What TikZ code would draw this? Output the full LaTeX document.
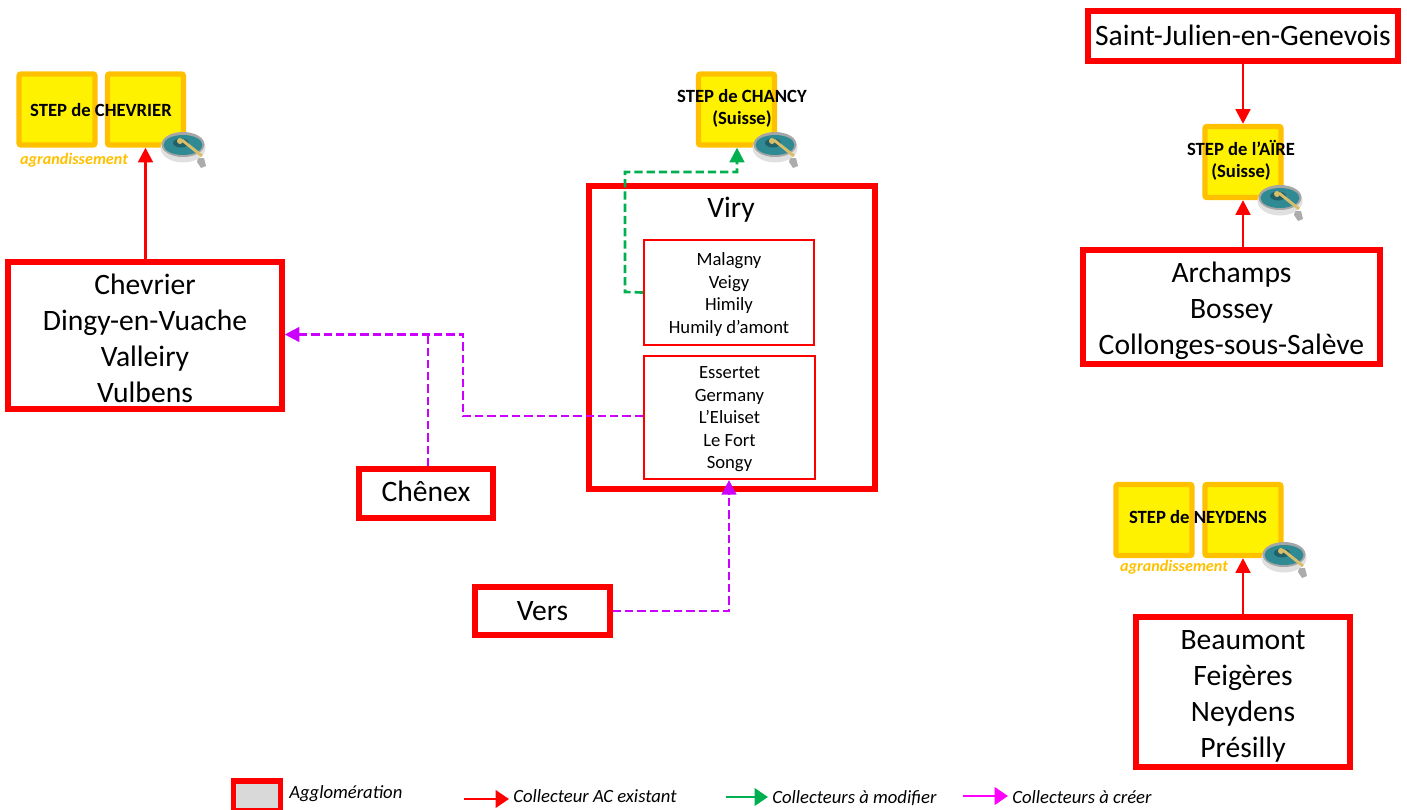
\documentclass[tikz,border=0pt]{standalone}
\usepackage{fontspec}
\setmainfont{Carlito}
\usetikzlibrary{arrows.meta}
\definecolor{stepor}{HTML}{FFC000}
\definecolor{vert}{HTML}{00B050}
\definecolor{viol}{HTML}{CC00FF}
\definecolor{mag}{HTML}{FF00FF}
\definecolor{teal1}{HTML}{2F8A94}
\definecolor{tan1}{HTML}{D9BE6A}
\tikzset{
 x=0.75pt,y=-0.75pt,
 wh/.style 2 args={minimum width=#1*0.75pt,minimum height=#2*0.75pt,inner sep=0pt},
 agglo/.style={draw=red,line width=4.2pt,fill=white},
 bigtext/.style={align=center,inner sep=0pt,font=\fontsize{22.2}{27}\selectfont},
 subbox/.style={draw=red,line width=1.6pt,fill=white},
 smalltext/.style={align=center,inner sep=0pt,font=\fontsize{14}{16.9}\selectfont},
 station/.style={draw=stepor,line width=4pt,fill=yellow,rounded corners=1.5pt},
 steptext/.style={align=center,inner sep=0pt,font=\bfseries\fontsize{14}{16.5}\selectfont},
 growtext/.style={text=stepor,inner sep=0pt,font=\bfseries\itshape\fontsize{12.1}{13}\selectfont},
 leg/.style={anchor=west,inner sep=0pt,font=\itshape\fontsize{14}{16}\selectfont},
 exist/.style={draw=red,line width=2pt,-{Triangle[length=11pt,width=11pt]}},
 modif/.style={draw=vert,line width=2pt,dash pattern=on 6.2pt off 3pt,-{Triangle[length=11pt,width=11pt]}},
 creer/.style={draw=viol,line width=2pt,dash pattern=on 6.2pt off 3pt,-{Triangle[length=11pt,width=11pt]}},
 creerline/.style={line width=2pt,dash pattern=on 6.2pt off 3pt,draw=viol},
 legarrow/.style={line width=2pt,shorten >=3pt,-{Triangle[length=10pt,width=13pt]}},
 digester/.pic={
  \fill[gray!65] (15,11) -- (21,11) -- (23,19) -- (18,21) -- (14,15) -- cycle;
  \fill[black!12] (0,1) ellipse[x radius=22.5,y radius=14.5];
  \fill[black!35] (0,-2.5) ellipse[x radius=21.5,y radius=12.5];
  \fill[teal1] (0,-2) ellipse[x radius=19.5,y radius=10];
  \fill[teal1!70!black] (-2,-4) ellipse[x radius=8,y radius=4.5];
  \draw[tan1,line width=2.2pt] (-1,-7) -- (19,9);
  \fill[tan1] (-3,-6) circle[radius=3];
 },
}
\begin{document}
\begin{tikzpicture}
\useasboundingbox (0,0) rectangle (1407,810);
% stations
\node[station,wh={76}{71}] (chev1) at (57,109.5) {};
\node[station,wh={76}{71}] (chev2) at (145.5,109.5) {};
\node[station,wh={76}{71}] (chan) at (736.5,109.5) {};
\node[station,wh={76}{71}] (aire) at (1243,162) {};
\node[station,wh={76}{71}] (ney1) at (1154,520) {};
\node[station,wh={76}{71}] (ney2) at (1243,520) {};
% boxes
\node[agglo,wh={274}{147}] (chevrier) at (145,335.5) {};
\node[bigtext] (chevriertx) at (145,338) {Chevrier\\Dingy-en-Vuache\\Valleiry\\Vulbens};
\node[agglo,wh={134}{49}] (chenex) at (426,493.5) {};
\node[bigtext] (chenextx) at (426,491) {Chênex};
\node[agglo,wh={286}{303}] (viry) at (732,337.5) {};
\node[bigtext] (virytx) at (731,210) {Viry};
\node[subbox,wh={170}{105}] (haut) at (729,292.5) {};
\node[smalltext] (hauttx) at (729,294.5) {Malagny\\Veigy\\Himily\\Humily d’amont};
\node[subbox,wh={171}{123}] (bas) at (729.5,417.5) {};
\node[smalltext] (bastx) at (729.5,419.5) {Essertet\\Germany\\L’Eluiset\\Le Fort\\Songy};
\node[agglo,wh={135}{48}] (vers) at (542.5,611) {};
\node[bigtext] (verstx) at (542.5,611) {Vers};
\node[agglo,wh={310}{50}] (stj) at (1243,36) {};
\node[bigtext] (stjtx) at (1243,35) {Saint-Julien-en-Genevois};
\node[agglo,wh={297}{114}] (arch) at (1231.5,307) {};
\node[bigtext] (archtx) at (1231.5,311) {Archamps\\Bossey\\Collonges-sous-Salève};
\node[agglo,wh={214}{150}] (beau) at (1243,692) {};
\node[bigtext] (beautx) at (1243,696) {Beaumont\\Feigères\\Neydens\\Présilly};
% connectors
\coordinate (g1) at (625,292);
\coordinate (g2) at (625,172);
\coordinate (g3) at (737,172);
\coordinate (p1) at (463,416);
\coordinate (p2) at (463,334.5);
\coordinate (p3) at (428,334.5);
\coordinate (p4) at (729,611);
\draw[exist] (chevrier.north -| chev2.south) -- (chev2.south);
\draw[exist] (stj.south) -- (aire.north);
\draw[exist] (arch.north -| aire.south) -- (aire.south);
\draw[exist] (beau.north) -- (ney2.south);
\draw[modif] (haut.west) -- (g1) -- (g2) -- (g3) -- (chan.south -| g3);
\draw[creer] (bas.west |- p1) -- (p1) -- (p2) -- (p3 -| chevrier.east);
\draw[creerline] (chenex.north -| p3) -- (p3);
\draw[creer] (vers.east) -- (p4) -- (bas.south -| p4);
% labels
\node[steptext] (t1) at (101,110) {STEP de CHEVRIER};
\node[steptext] (t2) at (742,108) {STEP de CHANCY\\(Suisse)};
\node[steptext] (t3) at (1241,160) {STEP de l’AÏRE\\(Suisse)};
\node[steptext] (t4) at (1198,517) {STEP de NEYDENS};
\node[growtext] (a1) at (74,160) {agrandissement};
\node[growtext] (a2) at (1174,567) {agrandissement};
% icons
\pic at (183,147) {digester};
\pic at (775,147) {digester};
\pic at (1280,200) {digester};
\pic at (1284,557) {digester};
% legend
\node[draw=red,line width=4.2pt,fill=gray!30,wh={47}{30}] (lgbox) at (257,796) {};
\node[leg] (l1) at (289,794) {Agglomération};
\node[leg] (l2) at (513,796) {Collecteur AC existant};
\node[leg] (l3) at (772,798) {Collecteurs à modifier};
\node[leg] (l4) at (1012,797) {Collecteurs à créer};
\coordinate (a0) at (464,799);
\coordinate (b0) at (726,797);
\coordinate (c0) at (963,796);
\draw[legarrow,draw=red] (a0) -- (a0 -| l2.west);
\draw[legarrow,draw=vert] (b0) -- (b0 -| l3.west);
\draw[legarrow,draw=mag] (c0) -- (c0 -| l4.west);
\end{tikzpicture}
\end{document}
